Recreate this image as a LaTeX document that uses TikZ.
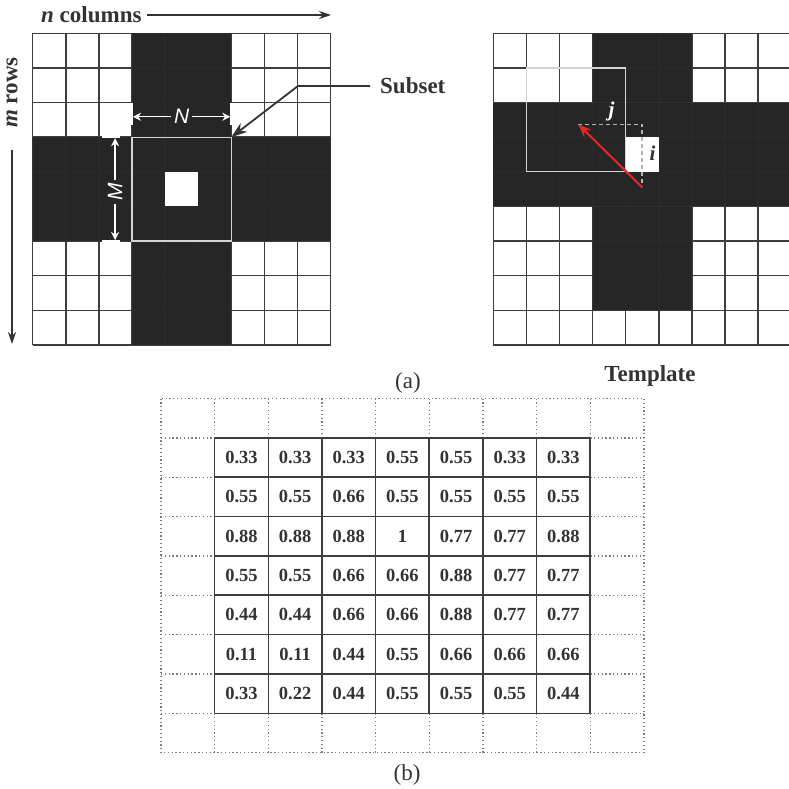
\documentclass[tikz,border=0pt]{standalone}
\usepackage{fontspec}
\setmainfont{Liberation Serif}
\newfontfamily\dimfont{Liberation Sans}
\usetikzlibrary{arrows.meta}
\definecolor{inkgray}{RGB}{51,51,51}
\definecolor{crossblk}{RGB}{38,38,38}
\definecolor{gridgray}{RGB}{62,62,62}
\definecolor{wingray}{RGB}{212,212,212}
\definecolor{vecred}{RGB}{232,37,42}
\definecolor{dotgray}{RGB}{125,125,125}

\begin{document}
\begin{tikzpicture}[x=1pt,y=-1pt,
  lbl/.style={font=\fontsize{23}{26}\selectfont\bfseries,text=inkgray,inner sep=0pt},
  capt/.style={font=\fontsize{23}{26}\selectfont,text=inkgray,inner sep=0pt},
  val/.style={font=\fontsize{18.5}{20}\selectfont\bfseries,text=inkgray,inner sep=0pt},
  dimlbl/.style={font=\fontsize{21}{24}\selectfont\dimfont\itshape,text=white,inner sep=3pt},
  idx/.style={font=\fontsize{21}{24}\selectfont\bfseries\itshape,inner sep=0pt},
  gridln/.style={draw=gridgray,line width=1.4pt},
  blk/.style={fill=crossblk},
  veil/.style={fill=crossblk,fill opacity=0.85},
  axis/.style={-{Stealth[length=12pt,width=8pt]},draw=inkgray,line width=1.3pt},
  dimarr/.style={-{Stealth[length=8pt,width=8pt]},draw=white,line width=1.4pt},
  tick/.style={draw=white,line width=2pt},
  win/.style={draw=wingray,line width=1.3pt},
  lead/.style={-{Stealth[length=16pt,width=11pt]},draw=inkgray,line width=1.8pt},
  trace/.style={draw=gray!60,dash pattern=on 4pt off 3pt,line width=1.6pt},
  shiftvec/.style={-{Stealth[length=13pt,width=10pt]},draw=vecred,line width=2pt},
  dotln/.style={draw=dotgray,line width=1.3pt,dash pattern=on 1.3pt off 2.5pt},
  tabln/.style={draw=gridgray,line width=1.6pt}]
\useasboundingbox (0,0) rectangle (789,789);

% input image
\begin{scope}[shift={(32.7,33.3)},x=33.1pt,y=-34.63pt]
\fill[blk] (3,0) rectangle (6,9);
\fill[blk] (0,3) rectangle (3,6) (6,3) rectangle (9,6);
\foreach \k in {0,...,9}{
  \draw[gridln] (\k,0) -- (\k,9);
  \draw[gridln] (0,\k) -- (9,\k);
}
\fill[veil] (3,0) rectangle (6,9);
\fill[veil] (0,3) rectangle (3,6) (6,3) rectangle (9,6);
\fill[white] (4,4) rectangle (5,5);
\draw[win] (3,3) rectangle (6,6);
\coordinate (subcorner) at (6,3);
% N and M
\node[dimlbl] (nlbl) at (4.5,2.41) {N};
\coordinate (nleft) at (3.03,2.41);
\coordinate (nright) at (5.97,2.41);
\draw[dimarr] (nlbl.west) -- (nleft);
\draw[dimarr] (nlbl.east) -- (nright);
\draw[tick] (3,2) -- (3,2.65);
\draw[tick] (6,2) -- (6,2.65);
\node[dimlbl,rotate=90] (mlbl) at (2.49,4.57) {M};
\coordinate (mtop) at (2.49,3.03);
\coordinate (mbot) at (2.49,5.97);
\draw[dimarr] (mlbl.east) -- (mtop);
\draw[dimarr] (mlbl.west) -- (mbot);
\draw[tick] (2.1,3) -- (2.65,3);
\draw[tick] (2.1,6) -- (2.65,6);
\end{scope}

% axes
\node[lbl,anchor=west] (ncol) at (41,15) {\textit{n} columns};
\coordinate (ncolend) at (331,15);
\draw[axis] ([xshift=5pt]ncol.east) -- (ncolend);
\node[lbl,rotate=90] (mrow) at (12,92.5) {\textit{m} rows};
\coordinate (mrowtop) at (12,150);
\coordinate (mrowend) at (12,344);
\draw[axis] (mrowtop) -- (mrowend);

% subset pointer
\node[lbl,anchor=west] (subset) at (380,86) {Subset};
\coordinate (subbend) at (298,86);
\draw[lead] ([xshift=-10pt]subset.west) -- (subbend) -- (subcorner);

% template
\begin{scope}
\clip (480,20) rectangle (789,360);
\begin{scope}[shift={(493.3,33.3)},x=33.1pt,y=-34.63pt]
\fill[blk] (3,0) rectangle (6,2) (3,5) rectangle (6,8);
\fill[blk] (0,2) rectangle (9,5);
\foreach \k in {0,...,9}{
  \draw[gridln] (\k,0) -- (\k,9);
  \draw[gridln] (0,\k) -- (9,\k);
}
\fill[veil] (3,0) rectangle (6,2) (3,5) rectangle (6,8);
\fill[veil] (0,2) rectangle (9,5);
\fill[white] (4,3) rectangle (5,4);
\draw[win] (1,1) rectangle (4,4);
\coordinate (vstart) at (4.5,4.45);
\coordinate (vend) at (2.57,2.63);
\coordinate (vcorner) at (4.5,2.63);
\draw[trace] (vend) -- (vcorner) -- (vstart);
\draw[shiftvec] (vstart) -- (vend);
\node[idx,text=white] (jlbl) at (3.57,2.26) {j};
\node[idx,text=inkgray] (ilbl) at (4.81,3.46) {i};
\end{scope}
\end{scope}
\node[lbl] (tmpl) at (650,376) {Template};
\node[capt] (capa) at (408,383) {(a)};

% correlation table
\begin{scope}[shift={(161,398.5)},x=53.65pt,y=-39.35pt]
\draw[dotln] (0,0) rectangle (9,9);
\foreach \k in {1,...,8}{
  \draw[dotln] (\k,0) -- (\k,1);
  \draw[dotln] (\k,8) -- (\k,9);
  \draw[dotln] (0,\k) -- (1,\k);
  \draw[dotln] (8,\k) -- (9,\k);
}
\foreach \k in {1,...,8}{
  \draw[tabln] (\k,1) -- (\k,8);
  \draw[tabln] (1,\k) -- (8,\k);
}
\foreach \vals [count=\r] in {
  {0.33,0.33,0.33,0.55,0.55,0.33,0.33},
  {0.55,0.55,0.66,0.55,0.55,0.55,0.55},
  {0.88,0.88,0.88,1,0.77,0.77,0.88},
  {0.55,0.55,0.66,0.66,0.88,0.77,0.77},
  {0.44,0.44,0.66,0.66,0.88,0.77,0.77},
  {0.11,0.11,0.44,0.55,0.66,0.66,0.66},
  {0.33,0.22,0.44,0.55,0.55,0.55,0.44}}{
  \foreach \v [count=\c] in \vals
    \node[val] (v-\r-\c) at (\c+0.5,\r+0.5) {\v};
}
\end{scope}
\node[capt] (capb) at (407,775) {(b)};
\end{tikzpicture}
\end{document}
